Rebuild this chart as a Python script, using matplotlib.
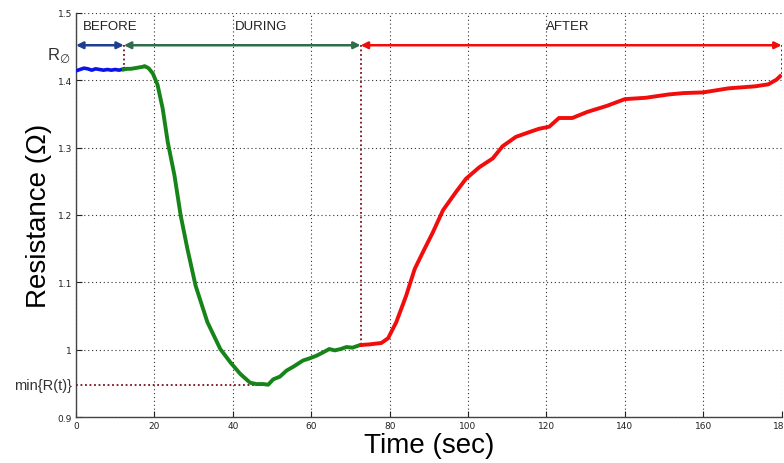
import matplotlib
matplotlib.use('Agg')
import matplotlib.pyplot as plt

# resistance trace, split into the three phases
t_before = [0, 1, 2, 3, 4, 5, 6, 7, 8, 9, 10, 11, 12.2]
r_before = [1.414, 1.416, 1.418, 1.417, 1.415, 1.417, 1.416, 1.415, 1.416,
            1.415, 1.416, 1.415, 1.417]

t_during = [12.2, 13, 14, 15, 16, 17, 17.5, 18.5, 19.6, 20.8, 22.1, 23.4,
            25.1, 26.7, 28.4, 30.5, 33.5, 36.8, 39.4, 41.9, 44.4, 46, 47.8,
            49, 50.3, 52, 53.7, 55.5, 57.9, 59.5, 61.3, 63, 64.6, 66, 67.5,
            69, 70.5, 72.5]
r_during = [1.416, 1.417, 1.417, 1.418, 1.419, 1.420, 1.421, 1.418, 1.410,
            1.393, 1.358, 1.308, 1.259, 1.199, 1.150, 1.095, 1.041, 1.001,
            0.981, 0.964, 0.951, 0.949, 0.949, 0.948, 0.956, 0.960, 0.969,
            0.975, 0.984, 0.987, 0.991, 0.996, 1.001, 0.999, 1.001, 1.004,
            1.003, 1.007]

t_after = [72.8, 75, 77.9, 79.6, 81.7, 84.2, 86.4, 88.5, 91.0, 93.6, 96.9,
           99.5, 102.9, 106.3, 108.8, 112.2, 115.6, 118.1, 120.7, 123.2,
           126.6, 130.4, 135.4, 140, 145.3, 151.2, 155, 160, 166.4, 173.2,
           176.6, 178.7, 179.6]
r_after = [1.007, 1.008, 1.010, 1.017, 1.041, 1.080, 1.120, 1.145, 1.174,
           1.207, 1.234, 1.254, 1.271, 1.284, 1.302, 1.316, 1.323, 1.328,
           1.331, 1.344, 1.344, 1.353, 1.362, 1.372, 1.374, 1.379, 1.381,
           1.382, 1.388, 1.391, 1.394, 1.401, 1.406]

# phase boundaries (sec) and annotation levels
t_start, t_stop, t_end = 12.2, 72.6, 180
arrow_level = 1.452
r_min = 0.947
t_min = 47.8

xticks = [0, 20, 40, 60, 80, 100, 120, 140, 160, 180]
yticks = [0.9, 1.0, 1.1, 1.2, 1.3, 1.4, 1.5]
ytick_labels = ['0.9', '1', '1.1', '1.2', '1.3', '1.4', '1.5']

fig = plt.figure(figsize=(7.84, 4.64), dpi=100)
ax = fig.add_axes([0.097, 0.099, 0.9, 0.871])

ax.plot(t_before, r_before, color='#0a14e6', lw=2.6, zorder=4)
ax.plot(t_during, r_during, color='#17841a', lw=2.8, zorder=4)
ax.plot(t_after, r_after, color='#f20d0d', lw=2.8, zorder=4)

# dotted markers for phase boundaries and the minimum
mark = dict(color='#7a1020', lw=1.3, ls=(0, (1, 1.5)), zorder=3)
ax.plot([t_start, t_start], [arrow_level, r_before[-1]], **mark)
ax.plot([t_stop, t_stop], [arrow_level, r_after[0]], **mark)
ax.plot([t_end, t_end], [arrow_level, r_after[-1]], **mark)
ax.plot([0, t_min], [r_min, r_min], **mark)

# phase arrows
for x0, x1, c in [(0, t_start, '#1d3f8f'),
                  (t_start, t_stop, '#2f6e4c'),
                  (t_stop, t_end, '#f20d0d')]:
    ax.annotate('', xy=(x1, arrow_level), xytext=(x0, arrow_level),
                arrowprops=dict(arrowstyle='<|-|>', color=c, lw=1.8,
                                mutation_scale=10, shrinkA=0, shrinkB=0),
                zorder=5)

txt = dict(fontsize=9.5, family='Liberation Sans', color='#222222',
           va='center', ha='left')
ax.text(1.8, 1.48, 'BEFORE', **txt)
ax.text(40.5, 1.481, 'DURING', **txt)
ax.text(120, 1.48, 'AFTER', **txt)

# labels sitting left of the y axis
ax.text(-1.5, 1.438, r'R$_{\varnothing}$', fontsize=12, ha='right',
        va='center', family='Liberation Sans', color='#333333')
ax.text(-1.0, r_min + 0.001, 'min{R(t)}', fontsize=10.5, ha='right',
        va='center', family='Liberation Sans', color='#333333')

ax.set_xlim(0, 180)
ax.set_ylim(0.9, 1.5)
ax.set_xticks(xticks)
ax.set_yticks(yticks)
ax.set_yticklabels(ytick_labels)
ax.tick_params(direction='in', length=4, width=0.8, labelsize=6.5,
               colors='#222222', pad=3)

ax.grid(True, color='#333333', lw=0.8, ls=(0, (1, 2.5)))
ax.set_axisbelow(True)
for side in ['top', 'right']:
    ax.spines[side].set_visible(False)
for side in ['left', 'bottom']:
    ax.spines[side].set_color('#444444')
    ax.spines[side].set_linewidth(1.0)

ax.set_xlabel('Time (sec)', fontsize=20, family='Liberation Sans', labelpad=1)
ax.set_ylabel('Resistance (Ω)', fontsize=20, family='Liberation Sans',
              labelpad=4)

fig.savefig('out.png', dpi=100, facecolor='white')
